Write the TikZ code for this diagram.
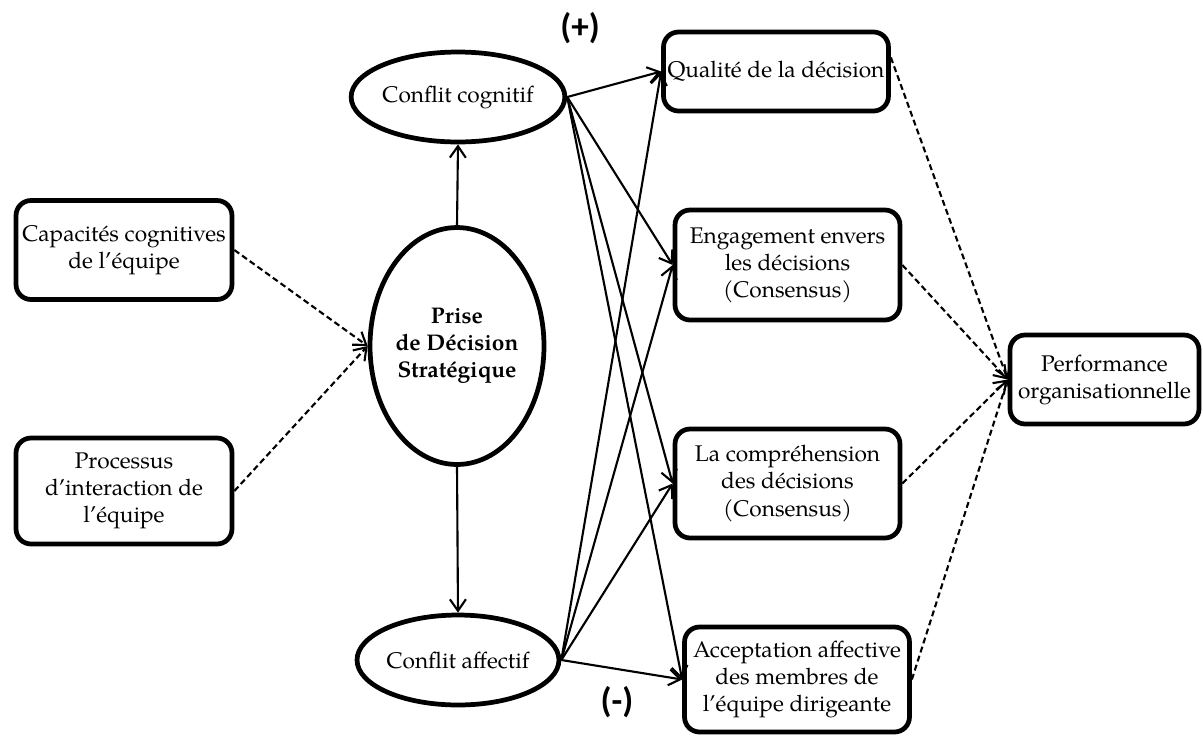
\documentclass[tikz,border=0pt]{standalone}
\usepackage{fontspec}
\setmainfont{TeX Gyre Pagella}
\newfontfamily\signFont{Carlito}
\usetikzlibrary{shapes.geometric, arrows.meta}
\tikzstyle{diagram} = [x = 0.02cm, y = -0.02cm]
\newcommand{\boxFont}{\fontsize{12.9}{15.4}\selectfont}
\tikzstyle{boxStyle} = [draw, line width = 2.7pt, rounded corners = .3cm, align = center, font = \boxFont, inner sep = 1pt]
\tikzstyle{ovalStyle} = [draw, ellipse, line width = 2.7pt, align = center, font = \boxFont, inner sep = 0pt]
\tikzstyle{causeLine} = [line width = 1.2pt, -{Straight Barb[length = 2.3mm, width = 3.2mm]}]
\tikzstyle{linkLine} = [causeLine, dash pattern = on 3.4pt off 2pt]
\tikzstyle{signText} = [font = \signFont\bfseries\fontsize{20}{22}\selectfont]
\newcommand{\leftBox}[4]{\node [boxStyle, minimum width = 4.32cm, minimum height = #3] (#1) at #2 {#4};}
\newcommand{\rightBox}[4]{\node [boxStyle, minimum width = 4.5cm, minimum height = #3] (#1) at #2 {#4};}

\begin{document}
\begin{tikzpicture}[diagram]
  \useasboundingbox (0,0) rectangle (1203,738);

  % inputs
  \leftBox{capacites}{(124,250)}{1.98cm}{Capacités cognitives\\de l’équipe}
  \leftBox{processus}{(124,491)}{2.12cm}{Processus\\d’interaction de\\l’équipe}

  % decision and conflicts
  \node [ovalStyle, minimum width = 3.48cm, minimum height = 4.74cm] (prise) at (457,346) {\textbf{Prise}\\\textbf{de Décision}\\\textbf{Stratégique}};
  \node [ovalStyle, minimum width = 3.88cm, minimum height = 1.8cm] (cognitif) at (458,97) {Conflit cognitif};
  \node [ovalStyle, minimum width = 3.88cm, minimum height = 1.8cm] (affectif) at (458,660) {Conflit affectif};

  % outcomes
  \rightBox{qualite}{(776,71.5)}{1.58cm}{Qualité de la décision}
  \rightBox{engagement}{(787.5,265)}{2.2cm}{Engagement envers\\les décisions\\(Consensus)}
  \rightBox{comprehension}{(787.5,483.5)}{2.18cm}{La compréhension\\des décisions\\(Consensus)}
  \rightBox{acceptation}{(797,679.5)}{2.1cm}{Acceptation affective\\des membres de\\l’équipe dirigeante}
  \node [boxStyle, minimum width = 3.78cm, minimum height = 1.78cm] (performance) at (1104.5,379.5) {Performance\\organisationnelle};

  \node [signText] (plus) at (580,28) {(+)};
  \node [signText] (minus) at (617,702) {(-)};

  % connectors
  \draw [linkLine] (capacites.east) -- (prise.west);
  \draw [linkLine] (processus.east) -- (prise.west);
  \draw [causeLine] (prise.north) -- (cognitif.south);
  \draw [causeLine] (prise.south) -- (affectif.north);
  \foreach \target in {qualite, engagement, comprehension, acceptation} {
    \draw [causeLine] (cognitif.east) -- (\target.west);
    \draw [causeLine] (affectif.east) -- (\target.west);
  }
  \foreach \source in {qualite.7, engagement.east, comprehension.east, acceptation.east}
    \draw [linkLine] (\source) -- (performance.west);
\end{tikzpicture}
\end{document}
